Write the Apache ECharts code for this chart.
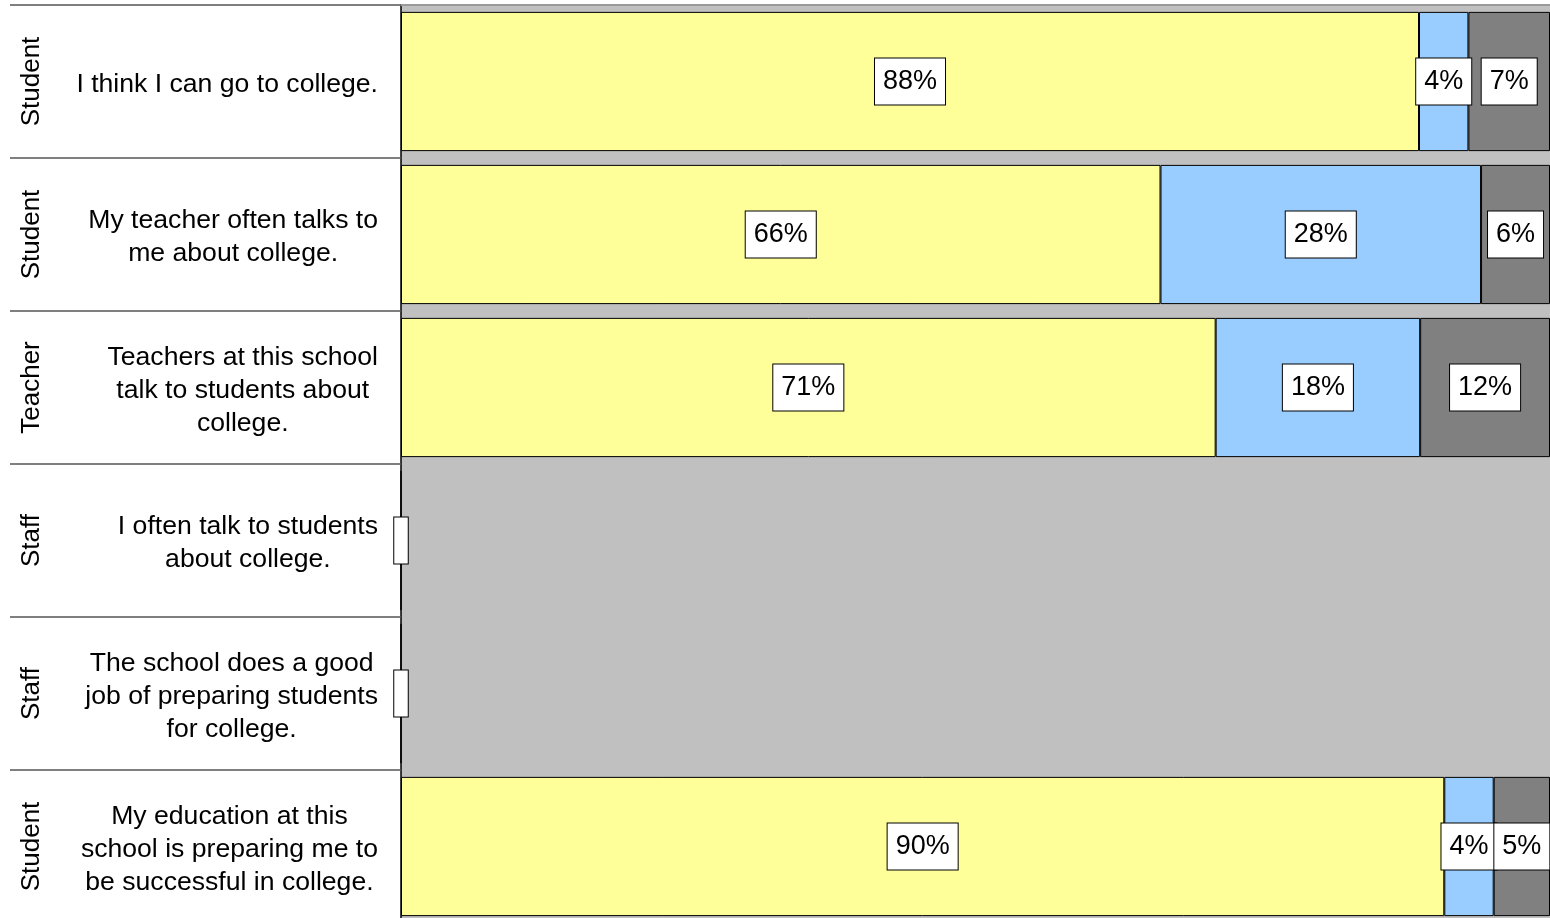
<!DOCTYPE html>
<html>
<head>
<meta charset="utf-8">
<script src="https://cdn.jsdelivr.net/npm/echarts@6/dist/echarts.min.js"></script>
<style>
html,body{margin:0;padding:0;background:#fff;}
#chart{width:1550px;height:918px;}
</style>
</head>
<body>
<div id="chart"></div>
<script>
const groups = ['Student', 'Student', 'Teacher', 'Staff', 'Staff', 'Student'];
const questions = [
  'I think I can go to college.',
  'My teacher often talks to\nme about college.',
  'Teachers at this school\ntalk to students about\ncollege.',
  'I often talk to students\nabout college.',
  'The school does a good\njob of preparing students\nfor college.',
  'My education at this\nschool is preparing me to\nbe successful in college.'
];
// segment shares (percent)
const yellowVals = [88.6, 66.1, 70.9, null, null, 90.8];
const blueVals = [4.3, 27.9, 17.8, null, null, 4.3];
const greyVals = [7.1, 6.0, 11.3, null, null, 4.9];
// data label texts as printed
const yellowLabels = ['88%', '66%', '71%', '', '', '90%'];
const blueLabels = ['4%', '28%', '18%', '', '', '4%'];
const greyLabels = ['7%', '6%', '12%', '', '', '5%'];

const FONT = 'Liberation Sans, Arial, sans-serif';

function items(vals, labels, isFirst) {
  return vals.map((v, i) => {
    if (v == null) {
      if (isFirst) {
        return { value: 0, txt: ' ', label: { padding: [9, 3] } };
      }
      return '-';
    }
    return { value: v, txt: labels[i] };
  });
}

const labelStyle = {
  show: true,
  position: 'inside',
  color: '#000',
  fontFamily: FONT,
  fontSize: 27,
  lineHeight: 28,
  backgroundColor: '#fff',
  borderColor: '#000',
  borderWidth: 1,
  padding: [10, 8, 8, 8],
  formatter: p => (p.data && p.data.txt) ? p.data.txt : ' '
};

function barSeries(name, vals, labels, color, isFirst) {
  return {
    name: name,
    type: 'bar',
    stack: 'total',
    barCategoryGap: '9%',
    data: items(vals, labels, isFirst),
    itemStyle: { color: color, borderColor: '#000', borderWidth: 1 },
    label: labelStyle,
    emphasis: { disabled: true }
  };
}

const chart = echarts.init(document.getElementById('chart'), null, { renderer: 'canvas' });
chart.setOption({
  animation: false,
  backgroundColor: '#fff',
  grid: {
    left: 401, right: 0, top: 5, height: 918,
    show: true, backgroundColor: '#C0C0C0', borderWidth: 0,
    containLabel: false,
    outerBoundsMode: 'none'
  },
  xAxis: {
    type: 'value', min: 0, max: 100, position: 'top',
    axisLine: { show: true, lineStyle: { color: '#9a9a9a', width: 2 } },
    axisTick: { show: false }, axisLabel: { show: false }, splitLine: { show: false }
  },
  yAxis: [
    {
      type: 'category',
      data: questions,
      inverse: true,
      position: 'left',
      axisLine: { show: true, lineStyle: { color: '#000', width: 1.5 } },
      axisTick: { show: true, length: 391, lineStyle: { color: '#555', width: 1.5 } },
      axisLabel: {
        margin: 23,
        padding: [6, 0, 0, 0],
        formatter: v => v.split('\n').map(l => '{q|' + l + '}').join('\n'),
        rich: {
          q: { fontFamily: FONT, fontSize: 26.6, lineHeight: 33, color: '#000', align: 'center' }
        }
      }
    },
    {
      type: 'category',
      data: groups,
      inverse: true,
      position: 'left',
      offset: 348,
      axisLine: { show: false },
      axisTick: { show: false },
      axisLabel: {
        rotate: 90,
        margin: 8,
        fontFamily: FONT,
        fontSize: 26,
        color: '#000'
      }
    }
  ],
  series: [
    barSeries('Series 1', yellowVals, yellowLabels, '#FFFF99', true),
    barSeries('Series 2', blueVals, blueLabels, '#99CCFF', false),
    barSeries('Series 3', greyVals, greyLabels, '#808080', false)
  ]
});
</script>
</body>
</html>
